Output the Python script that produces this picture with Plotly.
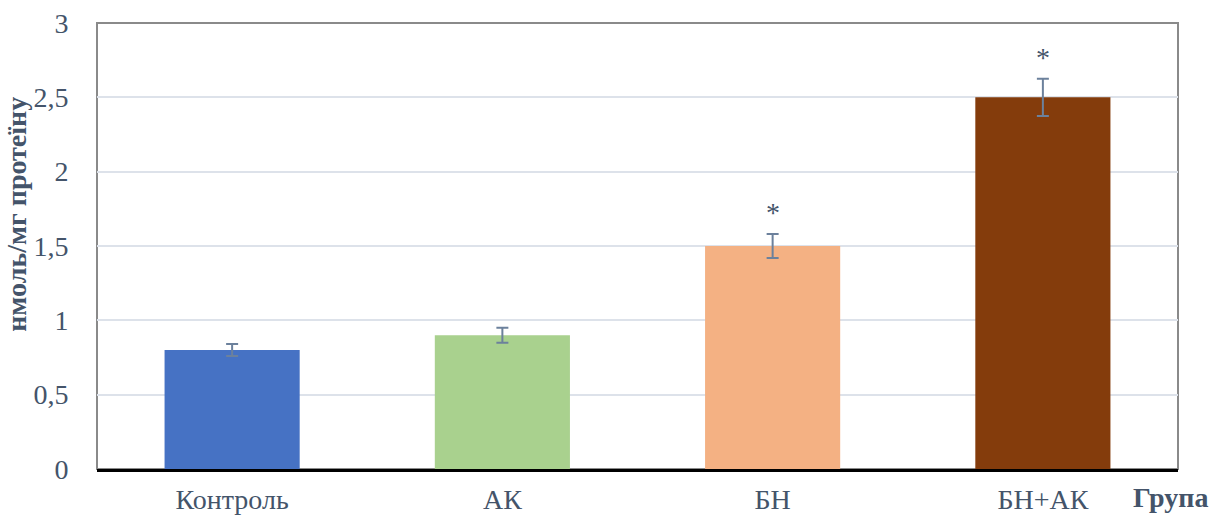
import plotly.graph_objects as go

# Group names, means and standard errors
groups = ["Контроль", "АК", "БН", "БН+АК"]
means = [0.80, 0.90, 1.50, 2.50]
errors = [0.04, 0.05, 0.08, 0.125]
significant = [False, False, True, True]
bar_colors = ["#4672C4", "#A9D18E", "#F4B183", "#843C0C"]

y_ticks = [0, 0.5, 1, 1.5, 2, 2.5, 3]
y_tick_text = ["0", "0,5", "1", "1,5", "2", "2,5", "3"]

serif = "Liberation Serif"
text_color = "#44546A"
fs = 28

fig = go.Figure()
fig.add_trace(go.Bar(
    x=groups,
    y=means,
    width=0.5,
    marker=dict(color=bar_colors, line=dict(width=0)),
    error_y=dict(type="data", array=errors, visible=True,
                 color="#6C819C", thickness=2, width=6),
    showlegend=False,
))

# significance marks above the error bars
for g, m, e, s in zip(groups, means, errors, significant):
    if s:
        fig.add_annotation(x=g, y=m + e, text="*", showarrow=False,
                           yanchor="bottom", yshift=4,
                           font=dict(family=serif, size=fs, color=text_color))

# axis titles
fig.add_annotation(xref="paper", yref="paper", x=-0.074, y=0.57,
                   text="<b>нмоль/мг протеїну</b>", textangle=-90,
                   showarrow=False, xanchor="center", yanchor="middle",
                   font=dict(family=serif, size=fs, color=text_color))
fig.add_annotation(xref="paper", yref="paper", x=0.9935, y=-0.065,
                   text="<b>Група</b>", showarrow=False,
                   xanchor="center", yanchor="middle",
                   font=dict(family=serif, size=fs, color=text_color))

# grey frame around the plotting area
fig.add_shape(type="rect", xref="paper", yref="paper", x0=0, y0=0, x1=1, y1=1,
              line=dict(color="#8A8A8A", width=2), layer="below")

fig.update_layout(
    width=1213, height=515,
    margin=dict(l=97, r=35, t=23, b=46),
    plot_bgcolor="white", paper_bgcolor="white",
    bargap=0.5,
    xaxis=dict(
        automargin=False,
        showline=True, linecolor="black", linewidth=3,
        ticks="outside", ticklen=3, tickcolor="rgba(0,0,0,0)",
        tickfont=dict(family=serif, size=fs, color=text_color),
        showgrid=False, zeroline=False,
    ),
    yaxis=dict(
        automargin=False,
        range=[0, 3], tickvals=y_ticks, ticktext=y_tick_text,
        showgrid=True, gridcolor="#DDE2EA", gridwidth=2,
        zeroline=False, showline=False,
        ticks="outside", ticklen=22, tickcolor="rgba(0,0,0,0)",
        tickfont=dict(family=serif, size=fs, color=text_color),
    ),
)

fig.write_html("out.html")
